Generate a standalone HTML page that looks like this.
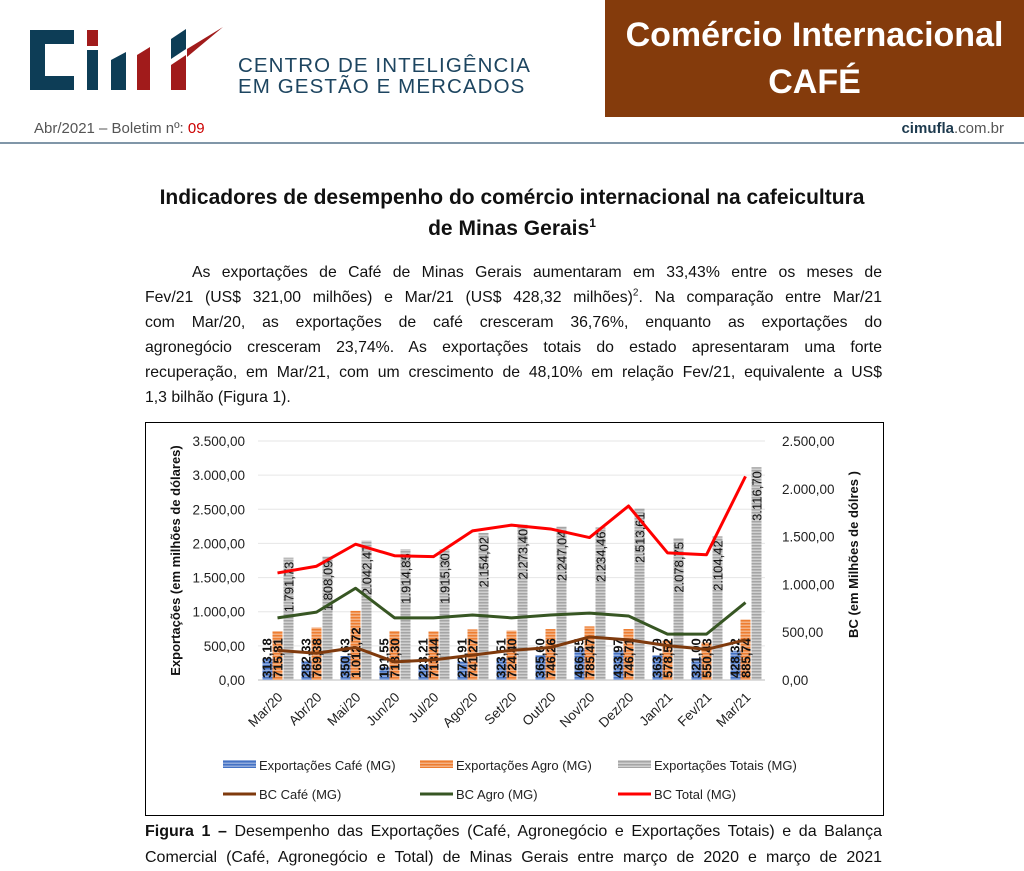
<!DOCTYPE html>
<html><head><meta charset="utf-8">
<style>
body{margin:0;width:1024px;height:863px;overflow:hidden;background:#fff;font-family:"Liberation Sans",sans-serif;position:relative}
.abs{position:absolute}
.ln{position:absolute;left:145px;width:737px;font-size:15.8px;line-height:25px;text-align:justify;text-align-last:justify;color:#111;white-space:nowrap}
</style></head><body>
<div class="abs" style="left:0;top:0;width:1024px;height:145px">
  <svg class="abs" style="left:25px;top:25px" width="210" height="70">
    <path d="M5,5 h44 v14 h-29 v32 h29 v14 h-44 z" fill="#0d3d56"/>
    <rect x="62" y="5" width="11" height="16" fill="#a11b1b"/>
    <rect x="62" y="25" width="11" height="40" fill="#0d3d56"/>
    <path d="M86,35 l15,-8 v38 h-15 z" fill="#0d3d56"/>
    <path d="M112,30 l13,-8 v43 h-13 z" fill="#a11b1b"/>
    <path d="M146,14 l15,-10 v20 l-15,10 z" fill="#0d3d56"/>
    <path d="M146,40 l15,-10 v35 h-15 z" fill="#a11b1b"/>
    <path d="M162,24 l36,-22 l-36,30 z" fill="#a11b1b"/>
  </svg>
  <div class="abs" style="left:238px;top:55px;font-size:20.5px;line-height:21px;color:#1d4560;letter-spacing:1.1px">CENTRO DE INTELIGÊNCIA<br>EM GESTÃO E MERCADOS</div>
  <div class="abs" style="left:605px;top:0;width:419px;height:117px;background:#843b0c;color:#fff;font-weight:bold;font-size:34px;line-height:47px;text-align:center;padding-top:12px;box-sizing:border-box">Comércio Internacional<br>CAFÉ</div>
  <div class="abs" style="left:34px;top:120px;font-size:15px;color:#555">Abr/2021 – Boletim nº: <span style="color:#c00">09</span></div>
  <div class="abs" style="right:20px;top:120px;font-size:15px;color:#555"><b style="color:#1d3a4e">cimufla</b>.com.br</div>
  <div class="abs" style="left:0;top:142px;width:1024px;height:2px;background:#8096a8"></div>
</div>
<div class="abs" style="left:0;width:1024px;top:182px;text-align:center;font-weight:bold;font-size:21px;line-height:31px;color:#111">Indicadores de desempenho do comércio internacional na cafeicultura<br>de Minas Gerais<sup style="font-size:12px;line-height:0">1</sup></div>
<div>
<div class="ln" style="top:260px;left:192px;width:690px">As exportações de Café de Minas Gerais aumentaram em 33,43% entre os meses de</div>
<div class="ln" style="top:285px">Fev/21 (US$ 321,00 milhões) e Mar/21 (US$ 428,32 milhões)<sup style="font-size:10px;line-height:0">2</sup>. Na comparação entre Mar/21</div>
<div class="ln" style="top:310px">com Mar/20, as exportações de café cresceram 36,76%, enquanto as exportações do</div>
<div class="ln" style="top:335px">agronegócio cresceram 23,74%. As exportações totais do estado apresentaram uma forte</div>
<div class="ln" style="top:360px">recuperação, em Mar/21, com um crescimento de 48,10% em relação Fev/21, equivalente a US$</div>
<div class="ln" style="top:385px;text-align-last:left">1,3 bilhão (Figura 1).</div>
</div>
<svg class="abs" id="chart" style="left:145px;top:422px" width="739" height="395" font-family="Liberation Sans, sans-serif"></svg>
<div>
<div class="ln" style="top:819px;font-size:16px;line-height:26px"><b>Figura 1 –</b> Desempenho das Exportações (Café, Agronegócio e Exportações Totais) e da Balança</div>
<div class="ln" style="top:845px;font-size:16px;line-height:26px">Comercial (Café, Agronegócio e Total) de Minas Gerais entre março de 2020 e março de 2021</div>
</div>
<script>
const categories=["Mar/20","Abr/20","Mai/20","Jun/20","Jul/20","Ago/20","Set/20","Out/20","Nov/20","Dez/20","Jan/21","Fev/21","Mar/21"];
const expCafe=[313.18,282.33,350.63,191.55,223.21,272.91,323.51,365.60,466.55,433.97,363.79,321.00,428.32];
const expAgro=[715.81,769.38,1012.72,718.30,713.44,741.27,724.40,746.26,785.47,746.71,578.52,550.43,885.74];
const expTotal=[1791.73,1808.09,2042.47,1914.85,1915.30,2154.02,2273.40,2247.04,2234.46,2513.61,2078.75,2104.42,3116.70];
const bcCafe=[310,280,340,190,210,260,310,340,450,420,360,320,420];
const bcAgro=[650,710,960,650,650,680,650,680,700,670,480,480,810];
const bcTotal=[1120,1190,1420,1300,1290,1560,1620,1580,1490,1820,1330,1310,2130];
const leftTicks=[0,500,1000,1500,2000,2500,3000,3500];
const rightTicks=[0,500,1000,1500,2000,2500];
const fmt=v=>{let s=v.toFixed(2).replace('.',',');let [i,d]=s.split(',');i=i.replace(/\B(?=(\d{3})+(?!\d))/g,'.');return i+','+d;};
const svg=document.getElementById('chart');
const NS='http://www.w3.org/2000/svg';
function mk(t,a,txt){const e=document.createElementNS(NS,t);for(const k in a)e.setAttribute(k,a[k]);if(txt!==undefined)e.textContent=txt;svg.appendChild(e);return e;}
const X0=113,X1=620,Y0=258,Y1=19;
const band=(X1-X0)/categories.length;
const xc=i=>X0+band*(i+0.5);
const yl=v=>Y0-(v/3500)*(Y0-Y1);
const yr=v=>Y0-(v/2500)*(Y0-Y1);
let e=mk('rect',{x:0.5,y:0.5,width:738,height:393,fill:'#fff',stroke:'#000','stroke-width':1});

const defs=mk('defs',{});
[['pb','#4472c4','#8faadc'],['po','#ed7d31','#f4b183'],['pg','#a5a5a5','#d0d0d0']].forEach(([id,c1,c2])=>{const p=document.createElementNS(NS,'pattern');p.setAttribute('id',id);p.setAttribute('width',4);p.setAttribute('height',3);p.setAttribute('patternUnits','userSpaceOnUse');p.innerHTML=`<rect width="4" height="3" fill="${c2}"/><rect width="4" height="1.5" fill="${c1}"/>`;defs.appendChild(p);});
leftTicks.forEach(t=>{if(t>0){e=mk('line',{x1:X0,x2:X1,y1:yl(t),y2:yl(t),stroke:'#e6e6e6'});}
 e=mk('text',{x:X0-13,y:yl(t)+5,'text-anchor':'end','font-size':13.5,fill:'#222'},fmt(t));});
rightTicks.forEach(t=>{e=mk('text',{x:X1+17,y:yr(t)+5,'font-size':13.5,fill:'#222'},fmt(t));});
e=mk('line',{x1:X0,x2:X1,y1:Y0,y2:Y0,stroke:'#bbb'});
const bw=10;
categories.forEach((c,i)=>{
 const x=xc(i);
 [[expCafe,'url(#pb)',-15,'bar-cafe'],[expAgro,'url(#po)',-5,'bar-agro'],[expTotal,'url(#pg)',6,'bar-total']].forEach(([arr,f,off,nm])=>{
  e=mk('rect',{x:x+off,y:yl(arr[i]),width:bw,height:Y0-yl(arr[i]),fill:f});
 });
 e=mk('text',{transform:`translate(${x-6},${Y0-2}) rotate(-90)`,'font-size':13,'font-weight':'bold',fill:'#111'},fmt(expCafe[i]));
 e=mk('text',{transform:`translate(${x+5},${Y0-2}) rotate(-90)`,'font-size':13,'font-weight':'bold',fill:'#111'},fmt(expAgro[i]));
 e=mk('text',{transform:`translate(${x+16},${yl(expTotal[i])+4}) rotate(-90)`,'font-size':13,fill:'#111','text-anchor':'end'},fmt(expTotal[i]));
 e=mk('text',{transform:`translate(${x+6},${Y0+18}) rotate(-45)`,'font-size':13.5,fill:'#222','text-anchor':'end'},c);
});
[[bcCafe,'#7f3a0d','line-bc-cafe'],[bcAgro,'#375623','line-bc-agro'],[bcTotal,'#ff0000','line-bc-total']].forEach(([arr,col,nm])=>{
 e=mk('polyline',{points:arr.map((v,i)=>xc(i)+','+yr(v)).join(' '),fill:'none',stroke:col,'stroke-width':3,'stroke-linejoin':'round'});
});
e=mk('text',{transform:`translate(35,${(Y0+Y1)/2}) rotate(-90)`,'font-size':13,'font-weight':'bold','text-anchor':'middle',fill:'#111'},'Exportações (em milhões de dólares)');
e=mk('text',{transform:`translate(713,${(Y0+Y1)/2-6}) rotate(-90)`,'font-size':13,'font-weight':'bold','text-anchor':'middle',fill:'#111'},'BC  (em Milhões de dólres )');
const leg=[['Exportações Café (MG)','url(#pb)',78,343,'bar'],['Exportações Agro (MG)','url(#po)',275,343,'bar'],['Exportações Totais (MG)','url(#pg)',473,343,'bar'],['BC Café (MG)','#7f3a0d',78,372,'line'],['BC Agro (MG)','#375623',275,372,'line'],['BC Total (MG)','#ff0000',473,372,'line']];
leg.forEach(([t,f,x,y,k])=>{
 if(k==='bar'){e=mk('rect',{x:x,y:y-5,width:33,height:8,fill:f});}else{e=mk('line',{x1:x,x2:x+33,y1:y,y2:y,stroke:f,'stroke-width':3});}
 
 e=mk('text',{x:x+36,y:y+5,'font-size':13,fill:'#222'},t);
});
</script>
</body></html>
